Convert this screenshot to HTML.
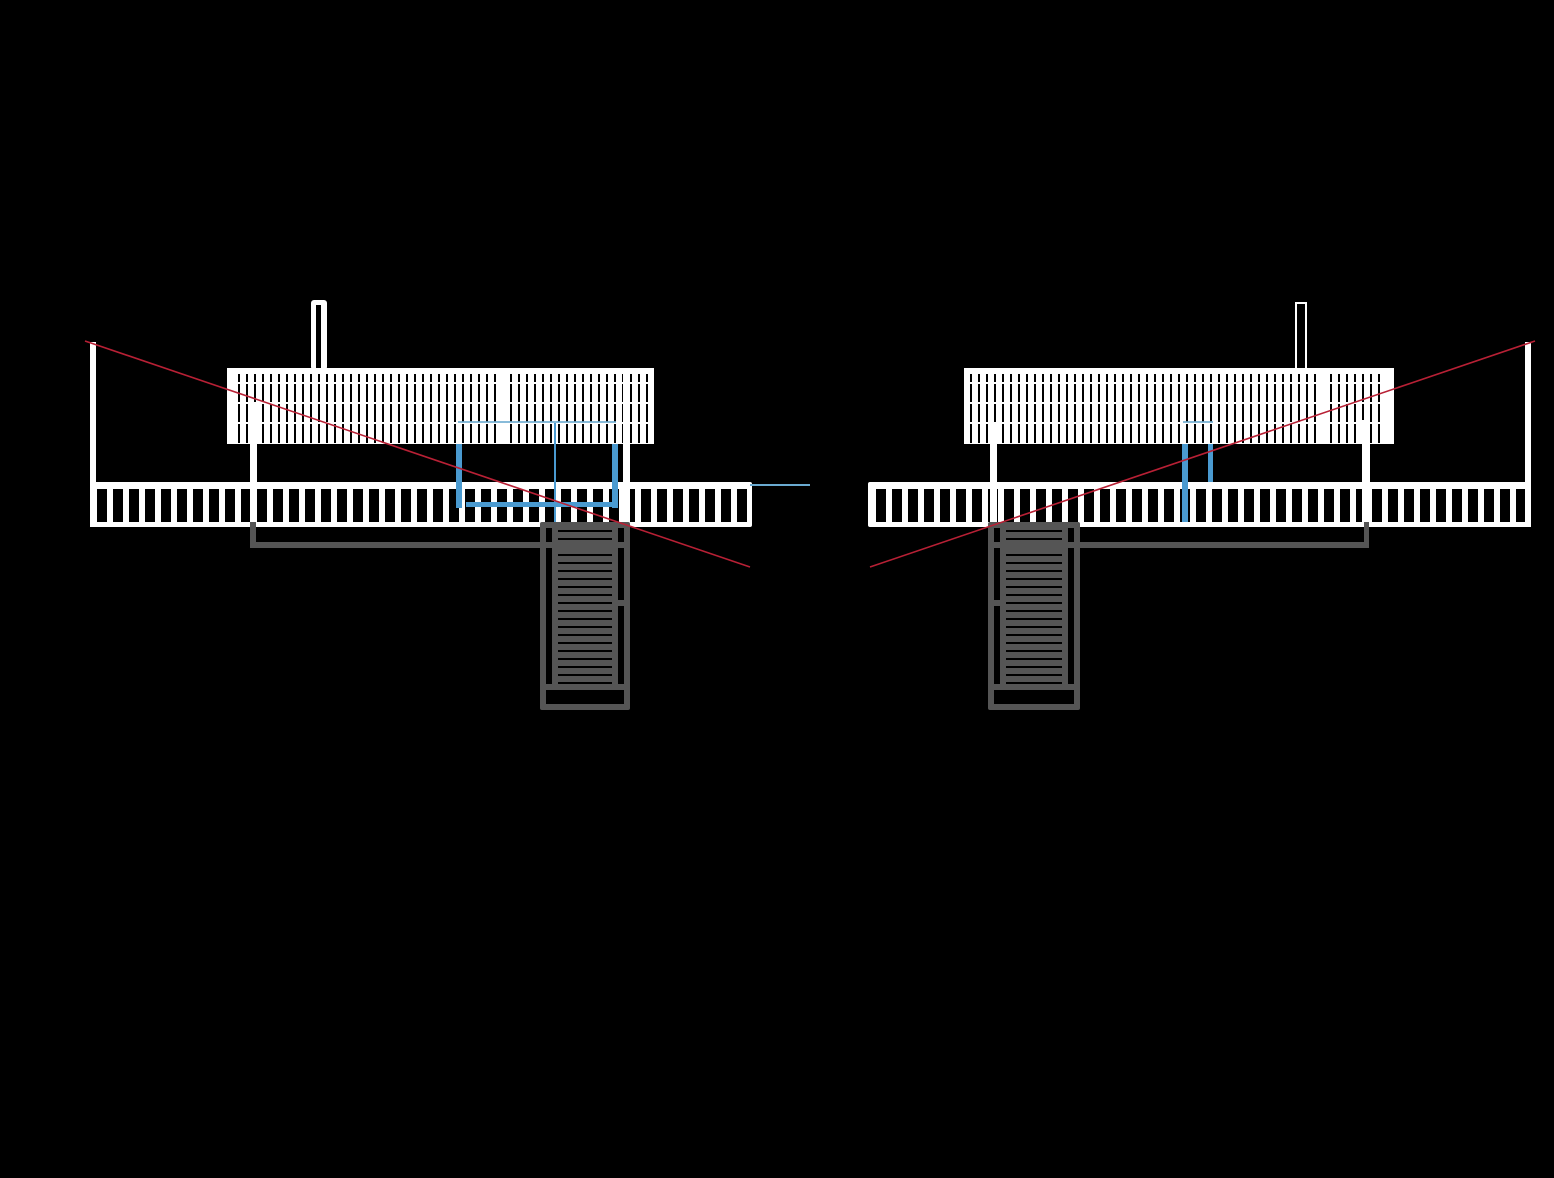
<!DOCTYPE html>
<html><head><meta charset="utf-8"><style>html,body{margin:0;padding:0;background:#000}svg{display:block}</style></head>
<body>
<svg width="1554" height="1178" viewBox="0 0 1554 1178" xmlns="http://www.w3.org/2000/svg">
<defs>
<pattern id="slitL" x="238" y="0" width="8" height="1178" patternUnits="userSpaceOnUse"><rect x="0" y="0" width="2" height="1178" fill="#000"/></pattern>
<pattern id="slitR" x="2" y="0" width="8" height="1178" patternUnits="userSpaceOnUse"><rect x="0" y="0" width="2" height="1178" fill="#000"/></pattern>
<pattern id="railL" x="97" y="0" width="16" height="1178" patternUnits="userSpaceOnUse"><rect x="0" y="0" width="10" height="1178" fill="#000"/></pattern>
<pattern id="railR" x="876" y="0" width="16" height="1178" patternUnits="userSpaceOnUse"><rect x="0" y="0" width="10" height="1178" fill="#000"/></pattern>
<pattern id="tread" x="0" y="530" width="8" height="8" patternUnits="userSpaceOnUse"><rect x="0" y="0" width="8" height="2" fill="#000"/></pattern>
</defs>
<rect width="1554" height="1178" fill="#000"/>

<!-- LEFT -->
<rect x="90" y="342" width="6" height="185" fill="#fff"/>
<rect x="311" y="300" width="16" height="70" rx="3" fill="#fff"/>
<rect x="316" y="305" width="5" height="65" fill="#000"/>
<rect x="227" y="368" width="427" height="76" fill="#fff"/>
<rect x="238" y="374" width="412" height="69" fill="url(#slitL)"/>
<rect x="227" y="382" width="427" height="2" fill="#fff"/>
<rect x="227" y="402" width="427" height="2" fill="#fff"/>
<rect x="227" y="422" width="427" height="2" fill="#fff"/>
<rect x="227" y="374" width="11" height="70" fill="#fff"/>
<rect x="500" y="374" width="10" height="70" fill="#fff"/>
<rect x="250" y="402" width="7" height="125" fill="#fff"/>
<rect x="623" y="374" width="7" height="153" fill="#fff"/>
<rect x="458" y="421" width="158" height="2" fill="#6aaad0" opacity="0.8"/>
<rect x="90" y="482" width="662" height="45" rx="2" fill="#fff"/>
<rect x="96" y="489" width="652" height="33" fill="url(#railL)"/>
<rect x="250" y="482" width="7" height="45" fill="#fff"/>
<rect x="623" y="482" width="7" height="45" fill="#fff"/>
<!-- blue left -->
<rect x="456" y="444" width="6" height="64" fill="#4a9ad0"/>
<rect x="612" y="444" width="6" height="64" fill="#4a9ad0"/>
<rect x="466" y="502" width="146" height="5" fill="#4a9ad0"/>
<rect x="554" y="423" width="2" height="103" fill="#4a9ad0"/>
<rect x="750" y="484" width="60" height="2" fill="#6aaad0"/>
<!-- gray left -->
<rect x="250" y="522" width="6" height="26" fill="#555"/>
<rect x="250" y="542" width="380" height="6" fill="#555"/>
<rect x="540" y="522" width="90" height="188" rx="2" fill="#555"/>
<rect x="546" y="528" width="6" height="156" fill="#000"/>
<rect x="618" y="528" width="6" height="156" fill="#000"/>
<rect x="618" y="600" width="6" height="6" fill="#555"/>
<rect x="546" y="542" width="78" height="6" fill="#555"/>
<rect x="558" y="530" width="54" height="154" fill="url(#tread)"/>
<rect x="558" y="542" width="54" height="10" fill="#555"/>
<rect x="546" y="690" width="78" height="14" fill="#000"/>
<line x1="85" y1="341" x2="750" y2="567" stroke="#b82035" stroke-width="1.6"/>

<!-- RIGHT -->
<rect x="1525" y="342" width="6" height="185" fill="#fff"/>
<rect x="1295" y="302" width="12" height="68" fill="#fff"/>
<rect x="1297" y="304" width="8" height="66" fill="#000"/>
<rect x="964" y="368" width="430" height="76" fill="#fff"/>
<rect x="970" y="374" width="420" height="69" fill="url(#slitR)"/>
<rect x="964" y="382" width="430" height="2" fill="#fff"/>
<rect x="964" y="402" width="430" height="2" fill="#fff"/>
<rect x="964" y="422" width="430" height="2" fill="#fff"/>
<rect x="1318" y="374" width="8" height="70" fill="#fff"/>
<rect x="1383" y="374" width="11" height="70" fill="#fff"/>
<rect x="990" y="422" width="7" height="105" fill="#fff"/>
<rect x="1362" y="420" width="8" height="107" fill="#fff"/>
<rect x="1183" y="421" width="30" height="2" fill="#6aaad0" opacity="0.8"/>
<rect x="868" y="482" width="663" height="45" rx="2" fill="#fff"/>
<rect x="874" y="489" width="651" height="33" fill="url(#railR)"/>
<rect x="990" y="482" width="7" height="45" fill="#fff"/>
<rect x="1362" y="482" width="8" height="45" fill="#fff"/>
<!-- blue right -->
<rect x="1182" y="444" width="6" height="78" fill="#4a9ad0"/>
<rect x="1208" y="444" width="5" height="38" fill="#4a9ad0"/>
<!-- gray right -->
<rect x="1364" y="522" width="5" height="26" fill="#555"/>
<rect x="988" y="542" width="381" height="6" fill="#555"/>
<rect x="988" y="522" width="92" height="188" rx="2" fill="#555"/>
<rect x="994" y="528" width="6" height="156" fill="#000"/>
<rect x="1068" y="528" width="6" height="156" fill="#000"/>
<rect x="994" y="600" width="6" height="6" fill="#555"/>
<rect x="994" y="542" width="80" height="6" fill="#555"/>
<rect x="1006" y="530" width="56" height="154" fill="url(#tread)"/>
<rect x="1006" y="542" width="56" height="10" fill="#555"/>
<rect x="994" y="690" width="80" height="14" fill="#000"/>
<line x1="870" y1="567" x2="1535" y2="341" stroke="#b82035" stroke-width="1.6"/>
</svg>
</body></html>
